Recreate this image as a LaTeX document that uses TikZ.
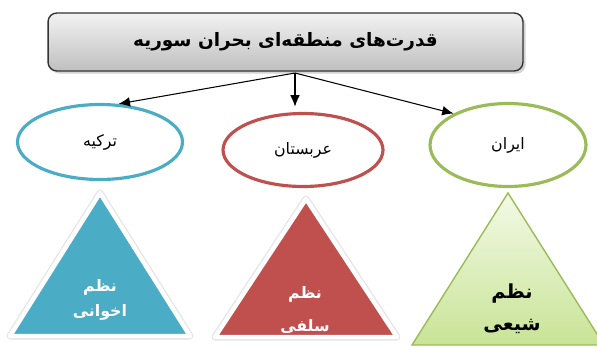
\documentclass[tikz,border=0pt]{standalone}
\usepackage{fontspec}
\newfontfamily\arabicfont[Script=Arabic]{DejaVu Sans}
\TeXXeTstate=1
\usetikzlibrary{shapes.geometric,arrows.meta,shadows}

\definecolor{turkblue}{RGB}{75,172,198}
\definecolor{saudired}{RGB}{192,80,77}
\definecolor{irangreen}{RGB}{155,187,89}
\definecolor{paletop}{RGB}{243,249,230}
\definecolor{palebottom}{RGB}{200,228,150}

\tikzset{
  country/.style={ellipse, draw, line width=1.8pt, minimum width=3.3cm, minimum height=1.5cm,
    font=\arabicfont\fontsize{9}{11}\selectfont},
  order/.style={align=center, font=\arabicfont\bfseries\fontsize{9}{14}\selectfont},
  link/.style={-{Latex[length=6.5pt,width=5.5pt]}, line width=0.6pt}
}

\begin{document}
\begin{tikzpicture}[x=0.02cm,y=-0.02cm]
    \useasboundingbox (0,0) rectangle (597,347);

    \node[draw=black!80, line width=0.8pt, rounded corners=5pt, top color=white!95!black, bottom color=black!25,
        drop shadow={shadow xshift=1.5pt, shadow yshift=-1.5pt, opacity=0.35},
        minimum width=9.5cm, minimum height=1.16cm,
        font=\arabicfont\bfseries\fontsize{10.5}{13}\selectfont] (title) at (285.5,42) {\beginR قدرت‌های منطقه‌ای بحران سوریه\endR};

    \node[country, draw=turkblue] (turkey) at (100,142) {\beginR ترکیه\endR};
    \node[country, draw=saudired, minimum width=3.2cm, minimum height=1.46cm] (saudi) at (303,150) {\beginR عربستان\endR};
    \node[country, draw=irangreen, minimum width=3.12cm, minimum height=1.66cm] (iran) at (508,145) {\beginR ایران\endR};

    \coordinate (hub) at (295,73);
    \draw[link] (hub) -- (turkey.64);
    \draw[link, shorten >=3pt] (hub) -- (hub |- saudi.north);
    \draw[link] (hub) -- (iran.150);

    % triangles
    \filldraw[draw=black!10, line width=4pt, line join=round, fill=white] (100,193) -- (190,336) -- (10,336) -- cycle;
    \filldraw[draw=white, line width=2.5pt, line join=round, fill=turkblue] (100,193) -- (190,336) -- (10,336) -- cycle;
    \filldraw[draw=black!10, line width=4pt, line join=round, fill=white] (306,199) -- (397,337) -- (215,337) -- cycle;
    \filldraw[draw=white, line width=2.5pt, line join=round, fill=saudired] (306,199) -- (397,337) -- (215,337) -- cycle;
    \draw[irangreen, line width=0.8pt, top color=paletop, bottom color=palebottom] (508,193) -- (604,345) -- (412,345) -- cycle;

    \node[order, text=white] (ikhwani) at (100,300) {\beginR نظم\endR\\\beginR اخوانی\endR};
    \node[order, text=white, font=\arabicfont\bfseries\fontsize{9}{19}\selectfont] (salafi) at (305,310) {\beginR نظم\endR\\\beginR سلفی\endR};
    \node[order, font=\arabicfont\bfseries\fontsize{11}{18}\selectfont] (shia) at (512,309) {\beginR نظم\endR\\\beginR شیعی\endR};
\end{tikzpicture}
\end{document}
